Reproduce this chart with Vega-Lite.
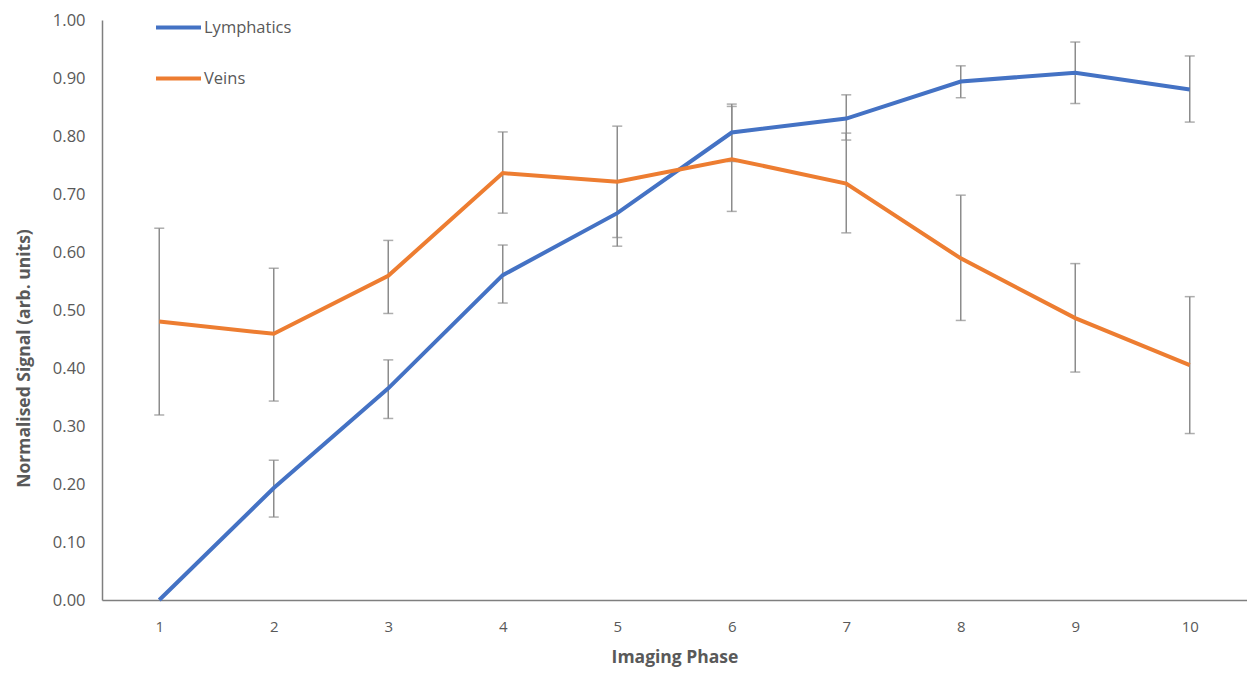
{
  "$schema": "https://vega.github.io/schema/vega-lite/v6.json",
  "width": 1145,
  "height": 580,
  "autosize": "none",
  "padding": {"left": 102, "top": 20, "right": 0, "bottom": 75},
  "background": "white",
  "config": {
    "view": {"stroke": null},
    "font": "Open Sans",
    "axis": {"labelColor": "#595959", "titleColor": "#595959", "labelFont": "Open Sans", "titleFont": "Open Sans"}
  },
  "data": {
    "values": [
      {"phase": 1, "series": "Lymphatics", "value": 0.0, "lo": null, "hi": null},
      {"phase": 2, "series": "Lymphatics", "value": 0.193, "lo": 0.143, "hi": 0.241},
      {"phase": 3, "series": "Lymphatics", "value": 0.365, "lo": 0.313, "hi": 0.414},
      {"phase": 4, "series": "Lymphatics", "value": 0.560, "lo": 0.512, "hi": 0.612},
      {"phase": 5, "series": "Lymphatics", "value": 0.667, "lo": 0.610, "hi": 0.722},
      {"phase": 6, "series": "Lymphatics", "value": 0.806, "lo": 0.756, "hi": 0.855},
      {"phase": 7, "series": "Lymphatics", "value": 0.830, "lo": 0.793, "hi": 0.871},
      {"phase": 8, "series": "Lymphatics", "value": 0.894, "lo": 0.866, "hi": 0.921},
      {"phase": 9, "series": "Lymphatics", "value": 0.909, "lo": 0.856, "hi": 0.962},
      {"phase": 10, "series": "Lymphatics", "value": 0.880, "lo": 0.824, "hi": 0.938},
      {"phase": 1, "series": "Veins", "value": 0.480, "lo": 0.319, "hi": 0.641},
      {"phase": 2, "series": "Veins", "value": 0.459, "lo": 0.343, "hi": 0.572},
      {"phase": 3, "series": "Veins", "value": 0.559, "lo": 0.494, "hi": 0.620},
      {"phase": 4, "series": "Veins", "value": 0.736, "lo": 0.667, "hi": 0.807},
      {"phase": 5, "series": "Veins", "value": 0.721, "lo": 0.625, "hi": 0.817},
      {"phase": 6, "series": "Veins", "value": 0.760, "lo": 0.670, "hi": 0.851},
      {"phase": 7, "series": "Veins", "value": 0.718, "lo": 0.633, "hi": 0.805},
      {"phase": 8, "series": "Veins", "value": 0.589, "lo": 0.482, "hi": 0.698},
      {"phase": 9, "series": "Veins", "value": 0.486, "lo": 0.393, "hi": 0.580},
      {"phase": 10, "series": "Veins", "value": 0.405, "lo": 0.287, "hi": 0.523}
    ]
  },
  "encoding": {
    "x": {
      "field": "phase",
      "type": "ordinal",
      "scale": {"type": "point", "padding": 0.5},
      "axis": {
        "title": "Imaging Phase",
        "titleFontSize": 17.5,
        "titleFontWeight": "bold",
        "titleBaseline": "middle",
        "titleY": 57,
        "labelFontSize": 15,
        "labelAngle": 0,
        "labelPadding": 19,
        "ticks": false,
        "domainColor": "#7f7f7f",
        "domainWidth": 1.5,
        "grid": false
      }
    }
  },
  "layer": [
    {
      "transform": [{"filter": "datum.lo != null"}],
      "mark": {"type": "rule", "color": "#8c8c8c", "strokeWidth": 1.5},
      "encoding": {
        "y": {"field": "lo", "type": "quantitative"},
        "y2": {"field": "hi"},
        "detail": {"field": "series"}
      }
    },
    {
      "transform": [{"filter": "datum.lo != null"}],
      "mark": {"type": "tick", "color": "#8c8c8c", "thickness": 1.5, "size": 10, "orient": "horizontal"},
      "encoding": {
        "y": {"field": "lo", "type": "quantitative"}
      }
    },
    {
      "transform": [{"filter": "datum.lo != null"}],
      "mark": {"type": "tick", "color": "#8c8c8c", "thickness": 1.5, "size": 10, "orient": "horizontal"},
      "encoding": {
        "y": {"field": "hi", "type": "quantitative"}
      }
    },
    {
      "mark": {"type": "line", "strokeWidth": 4},
      "encoding": {
        "y": {
          "field": "value",
          "type": "quantitative",
          "scale": {"domain": [0, 1], "nice": false},
          "axis": {
            "title": "Normalised Signal (arb. units)",
            "titleFontSize": 17.5,
            "titleFontWeight": "bold",
            "titleX": -78,
            "titleY": 338,
            "titleAlign": "center",
            "titleBaseline": "middle",
            "values": [0, 0.1, 0.2, 0.3, 0.4, 0.5, 0.6, 0.7, 0.8, 0.9, 1.0],
            "format": ".2f",
            "labelFontSize": 16.5,
            "labelPadding": 17,
            "ticks": false,
            "grid": false,
            "domainColor": "#7f7f7f",
            "domainWidth": 1.5
          }
        },
        "color": {
          "field": "series",
          "type": "nominal",
          "scale": {"domain": ["Lymphatics", "Veins"], "range": ["#4472C4", "#ED7D31"]},
          "legend": {
            "title": null,
            "orient": "none",
            "legendX": 52,
            "legendY": -17,
            "symbolType": "stroke",
            "symbolSize": 2025,
            "symbolStrokeWidth": 4,
            "labelFontSize": 16.5,
            "labelColor": "#595959",
            "labelFont": "Open Sans",
            "labelOffset": 1,
            "rowPadding": 18,
            "padding": 0
          }
        }
      }
    }
  ]
}
